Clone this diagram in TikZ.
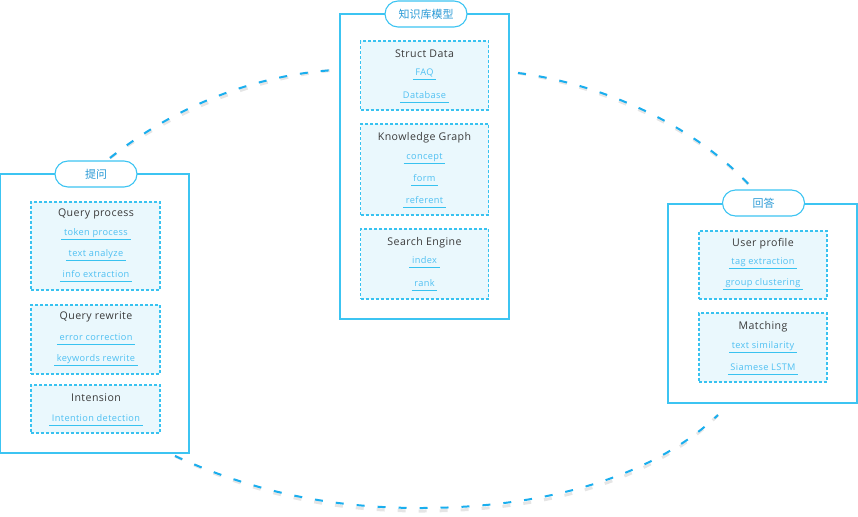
\documentclass[tikz,border=0pt]{standalone}
\usepackage{fontspec}
\setmainfont{Open Sans}[LetterSpace=4]
\newfontfamily\cjk{Noto Sans CJK SC}
\usetikzlibrary{positioning}
\definecolor{PanelCyan}{HTML}{3CC4F2}
\definecolor{ArcBlue}{HTML}{1AAEEE}
\definecolor{BoxFill}{HTML}{EAF8FD}
\definecolor{BoxLine}{HTML}{38C2F0}
\definecolor{ItemBlue}{HTML}{4FC0F2}
\definecolor{TitleGray}{HTML}{3A3A3A}
\definecolor{PillText}{HTML}{2A9AD6}

\tikzset{
  panel/.style={draw=PanelCyan, line width=1.2pt},
  pill/.style={draw=PanelCyan, fill=white, line width=1.1pt, rounded corners=13pt,
    minimum width=82pt, minimum height=26pt, text=PillText, font=\cjk\fontsize{11}{13}\selectfont},
  subbox/.style={draw=BoxLine, fill=BoxFill, line width=1.1pt, dash pattern=on 3pt off 2pt},
  boxtitle/.style={text=TitleGray, font=\fontsize{10.6}{12}\selectfont, inner sep=1pt},
  entry/.style={text=ItemBlue, font=\fontsize{9.2}{10}\selectfont, inner xsep=2.5pt,
    inner ysep=1.5pt, text height=7pt, text depth=2.5pt},
  uline/.style={draw=BoxLine, line width=1.3pt},
  linkarc/.style={draw=ArcBlue, line width=2pt, dash pattern=on 8pt off 13pt},
  arcshadow/.style={draw=black!10, line width=3pt, dash pattern=on 8pt off 13pt, shift={(1.5,3)}},
}

\begin{document}
\begin{tikzpicture}[x=1pt, y=-1pt]
  \useasboundingbox (0,0) rectangle (858,516);

  %% Left panel -- question
  \draw[panel] (0.6,174) rectangle (189,453);
  \node[pill] (ask) at (96,174) {提问};
  \node[subbox, minimum width=129pt, minimum height=88pt] (qpbox) at (95.5,246) {};
  \node[boxtitle] (qp) at (96,214) {Query process};
  \node[entry] (qp1) at (96,233) {token process};
  \node[entry] (qp2) at (96,254) {text analyze};
  \node[entry] (qp3) at (96,275) {info extraction};
  \node[subbox, minimum width=129pt, minimum height=69pt] (qrbox) at (95.5,339.5) {};
  \node[boxtitle] (qr) at (96,317) {Query rewrite};
  \node[entry] (qr1) at (96,338) {error correction};
  \node[entry] (qr2) at (96,359) {keywords rewrite};
  \node[subbox, minimum width=129pt, minimum height=48pt] (inbox) at (95.5,409) {};
  \node[boxtitle] (in) at (96,398) {Intension};
  \node[entry] (in1) at (96,419) {Intention detection};

  %% Middle panel -- knowledge base
  \draw[panel] (340,14) rectangle (509,319);
  \node[pill] (kb) at (426,14) {知识库模型};
  \node[subbox, minimum width=128pt, minimum height=69pt] (sdbox) at (424.5,75.5) {};
  \node[boxtitle] (sd) at (424.5,54) {Struct Data};
  \node[entry] (sd1) at (424.5,73) {FAQ};
  \node[entry] (sd2) at (424.5,96) {Database};
  \node[subbox, minimum width=128pt, minimum height=91pt] (kgbox) at (424.5,169.5) {};
  \node[boxtitle] (kg) at (424.5,138) {Knowledge Graph};
  \node[entry] (kg1) at (424.5,157) {concept};
  \node[entry] (kg2) at (424.5,179) {form};
  \node[entry] (kg3) at (424.5,201) {referent};
  \node[subbox, minimum width=128pt, minimum height=70pt] (sebox) at (424.5,264) {};
  \node[boxtitle] (se) at (424.5,243) {Search Engine};
  \node[entry] (se1) at (424.5,261) {index};
  \node[entry] (se2) at (424.5,284) {rank};

  %% Right panel -- answer
  \draw[panel] (668,204) rectangle (857,403);
  \node[pill] (ans) at (763.5,203) {回答};
  \node[subbox, minimum width=128pt, minimum height=68pt] (upbox) at (763,265) {};
  \node[boxtitle] (up) at (763,244) {User profile};
  \node[entry] (up1) at (763,262) {tag extraction};
  \node[entry] (up2) at (763,283) {group clustering};
  \node[subbox, minimum width=128pt, minimum height=69pt] (mtbox) at (763,347.5) {};
  \node[boxtitle] (mt) at (763,327) {Matching};
  \node[entry] (mt1) at (763,346) {text similarity};
  \node[entry] (mt2) at (763,368) {Siamese LSTM};

  %% Underlines
  \foreach \n in {qp1,qp2,qp3,qr1,qr2,in1,sd1,sd2,kg1,kg2,kg3,se1,se2,up1,up2,mt1,mt2}
    \draw[uline] (\n.south west) -- (\n.south east);

  %% Dashed arcs between panels
  \coordinate (ask-out) at (110,158);
  \coordinate (kb-in) at (335,70);
  \coordinate (kb-out) at (518,73);
  \coordinate (ans-in) at (752,188);
  \coordinate (ans-out) at (718,415);
  \coordinate (ask-in) at (175,456);
  \foreach \s in {arcshadow,linkarc} {
    \draw[\s] (ask-out) .. controls (170,110) and (250,75) .. (kb-in);
    \draw[\s] (kb-out) .. controls (610,85) and (700,130) .. (ans-in);
    \draw[\s] (ask-in) .. controls (260,495) and (340,508) .. (420,508)
              .. controls (560,508) and (660,470) .. (ans-out);
  }
\end{tikzpicture}
\end{document}
